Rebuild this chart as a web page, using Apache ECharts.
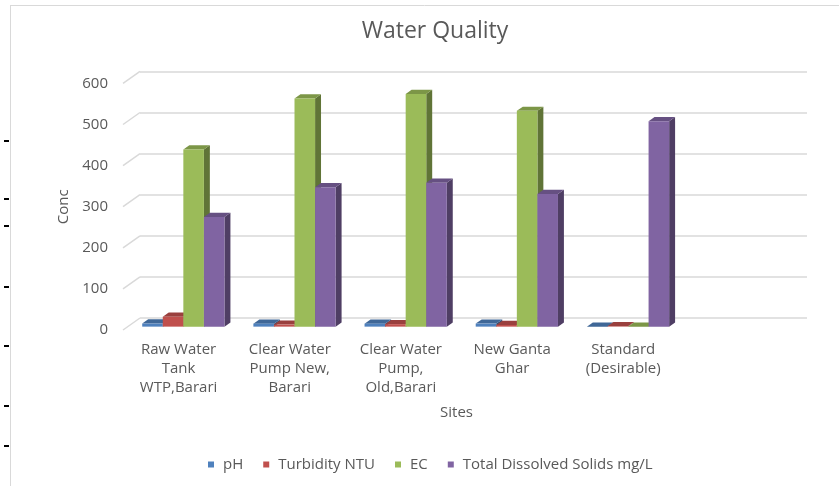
<!DOCTYPE html>
<html><head><meta charset="utf-8">
<script src="https://cdn.jsdelivr.net/npm/echarts@6/dist/echarts.min.js"></script>
<style>html,body{margin:0;padding:0;background:#fff}#c{width:839px;height:486px}</style>
</head><body><div id="c"></div>
<script>
// ---- data ----
const categories = ['Raw Water\nTank\nWTP,Barari','Clear Water\nPump New,\nBarari','Clear Water\nPump,\nOld,Barari','New Ganta\nGhar','Standard\n(Desirable)'];
const seriesNames = ['pH','Turbidity NTU','EC','Total Dissolved Solids mg/L'];
const pH = [7.5, 7.3, 7.2, 7.4, 0];
const turbidity = [24, 5, 6, 4, 1];
const ec = [431, 555, 566, 525, 0];
const tds = [267, 339, 350, 323, 500];
const yTicks = [0, 100, 200, 300, 400, 500, 600];
const seriesValues = [pH, turbidity, ec, tds];
const colors = ['#4F81BD','#C0504D','#9BBB59','#8064A2'];

// ---- layout / style ----
const DX = 17, DY = -12;              // wall depth offset
const BAR_FRONT = 0.28, BAR_BACK = 0.63;
const BAR_FRAC = 0.185;
const FONT = '"Open Sans", sans-serif';
const TXT = '#595959';
const axisCats = categories.concat(['']);

function shade(hex, k){
  const n = parseInt(hex.slice(1),16);
  const r = Math.round(((n>>16)&255)*k), g = Math.round(((n>>8)&255)*k), b = Math.round((n&255)*k);
  return 'rgb('+r+','+g+','+b+')';
}

function barRender(sIdx){
  return function(params, api){
    const ci = api.value(0), v = api.value(1);
    if (v == null || isNaN(v)) return;
    const band = api.size([1,0])[0];
    const bw = band*BAR_FRAC;
    const c = api.coord([ci, 0]);
    const t = api.coord([ci, v]);
    const x0 = c[0] - 2*bw + sIdx*bw + DX*BAR_FRONT;
    const x1 = x0 + bw;
    const yb = c[1] + DY*BAR_FRONT;
    const yt = t[1] + DY*BAR_FRONT;
    const ddx = DX*(BAR_BACK-BAR_FRONT), ddy = DY*(BAR_BACK-BAR_FRONT);
    const col = colors[sIdx];
    return {type:'group', children:[
      {type:'polygon', shape:{points:[[x1,yb],[x1+ddx,yb+ddy],[x1+ddx,yt+ddy],[x1,yt]]}, style:{fill:shade(col,0.62)}},
      {type:'polygon', shape:{points:[[x0,yt],[x1,yt],[x1+ddx,yt+ddy],[x0+ddx,yt+ddy]]}, style:{fill:shade(col,0.8)}},
      {type:'rect', shape:{x:x0,y:yt,width:bw,height:yb-yt}, style:{fill:col}}
    ]};
  };
}

function diagRender(params, api){
  const v = api.value(1);
  const y = api.coord([0, v])[1];
  const x = params.coordSys.x;
  return {type:'line', shape:{x1:x, y1:y, x2:x-DX, y2:y-DY}, style:{stroke:'#d9d9d9', lineWidth:1.5}};
}

const chart = echarts.init(document.getElementById('c'));
const series = seriesNames.map((name, i) => ({
  name: name, type: 'custom', xAxisIndex: 0, yAxisIndex: 0,
  renderItem: barRender(i),
  itemStyle: {color: colors[i]},
  encode: {x: 0, y: 1},
  data: seriesValues[i].map((v, j) => [j, v]),
  z: 5
}));
series.push({
  type: 'custom', xAxisIndex: 1, yAxisIndex: 1, renderItem: diagRender, silent: true,
  encode: {x: 0, y: 1}, data: yTicks.map(v => [0, v]), z: 1
});

const dashes = [140,198,225,286,345,405,445].map(y => ({
  type:'rect', shape:{x:4, y:y, width:5, height:2}, style:{fill:'#000'}
}));

chart.setOption({
  animation: false,
  color: colors,
  textStyle: {fontFamily: FONT},
  title: {
    text: 'Water Quality', left: 430, top: 15, textAlign: 'center',
    textStyle: {fontFamily: FONT, fontSize: 23, fontWeight: 'normal', color: TXT}
  },
  legend: {
    left: 203, top: 452, itemWidth: 6, itemHeight: 6, itemGap: 20, icon: 'rect',
    data: seriesNames,
    textStyle: {fontFamily: FONT, fontSize: 15, color: TXT, padding: [0,0,0,4]}
  },
  grid: [
    {left: 123, right: 49, top: 83.4, bottom: 156},
    {left: 123 + DX, right: 49 - DX, top: 83.4 + DY, bottom: 156 - DY}
  ],
  xAxis: [
    {type: 'category', gridIndex: 0, data: axisCats,
     axisLine: {show: false}, axisTick: {show: false},
     axisLabel: {interval: 0, margin: 10, color: TXT, fontSize: 15, lineHeight: 19, fontFamily: FONT},
     name: 'Sites', nameLocation: 'middle', nameGap: 75,
     nameTextStyle: {color: TXT, fontSize: 15, fontFamily: FONT}},
    {type: 'category', gridIndex: 1, data: axisCats, show: false}
  ],
  yAxis: [
    {type: 'value', gridIndex: 0, min: 0, max: 600, interval: 100,
     axisLine: {show: false}, axisTick: {show: false}, splitLine: {show: false},
     axisLabel: {margin: 15, color: TXT, fontSize: 15, fontFamily: FONT, padding: [0,0,5,0]},
     name: 'Conc', nameLocation: 'middle', nameGap: 47,
     nameTextStyle: {color: TXT, fontSize: 15, fontFamily: FONT}},
    {type: 'value', gridIndex: 1, min: 0, max: 600, interval: 100,
     axisLine: {show: false}, axisTick: {show: false}, axisLabel: {show: false},
     splitLine: {show: true, lineStyle: {color: '#d9d9d9', width: 1.5}}}
  ],
  graphic: [
    {type:'line', shape:{x1:10.5, y1:5, x2:10.5, y2:486}, style:{stroke:'#d9d9d9', lineWidth:1}},
    {type:'line', shape:{x1:10, y1:5.5, x2:839, y2:5.5}, style:{stroke:'#d9d9d9', lineWidth:1}}
  ].concat(dashes),
  series: series
});
</script></body></html>
